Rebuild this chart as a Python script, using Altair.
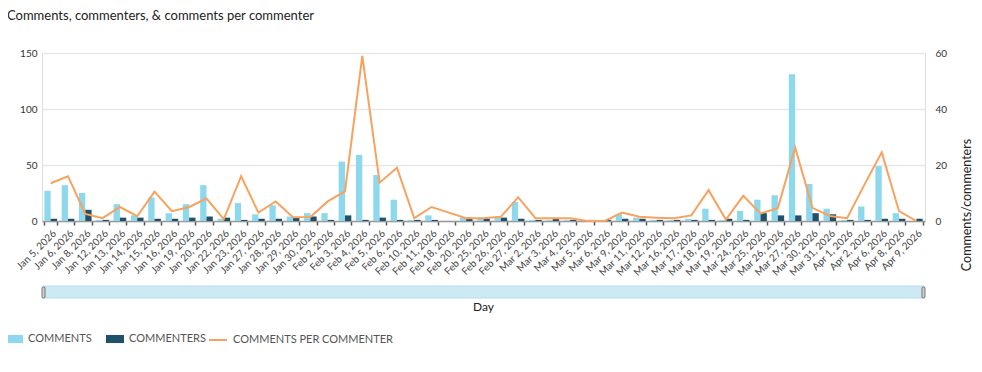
import altair as alt
import pandas as pd

days = ["Jan 5, 2026", "Jan 6, 2026", "Jan 8, 2026", "Jan 12, 2026", "Jan 13, 2026", "Jan 14, 2026",
        "Jan 15, 2026", "Jan 16, 2026", "Jan 19, 2026", "Jan 20, 2026", "Jan 22, 2026", "Jan 23, 2026",
        "Jan 27, 2026", "Jan 28, 2026", "Jan 29, 2026", "Jan 30, 2026", "Feb 2, 2026", "Feb 3, 2026",
        "Feb 4, 2026", "Feb 5, 2026", "Feb 6, 2026", "Feb 10, 2026", "Feb 11, 2026", "Feb 18, 2026",
        "Feb 20, 2026", "Feb 25, 2026", "Feb 26, 2026", "Feb 27, 2026", "Mar 2, 2026", "Mar 3, 2026",
        "Mar 4, 2026", "Mar 5, 2026", "Mar 6, 2026", "Mar 9, 2026", "Mar 11, 2026", "Mar 12, 2026",
        "Mar 16, 2026", "Mar 17, 2026", "Mar 18, 2026", "Mar 19, 2026", "Mar 24, 2026", "Mar 25, 2026",
        "Mar 26, 2026", "Mar 27, 2026", "Mar 30, 2026", "Mar 31, 2026", "Apr 1, 2026", "Apr 2, 2026",
        "Apr 6, 2026", "Apr 8, 2026", "Apr 9, 2026"]

comments = [27, 32, 25, 1, 15, 5, 21, 7, 15, 32, 2, 16, 6, 14, 4, 7, 7, 53, 59, 41, 19, 1, 5, 0,
            3, 3, 4, 17, 1, 1, 1, 0, 0, 6, 3, 1, 1, 2, 11, 1, 9, 19, 23, 131, 33, 11, 1, 13, 49, 7, 0]

commenters = [2, 2, 10, 1, 3, 3, 2, 2, 3, 4, 3, 1, 2, 2, 3, 4, 1, 5, 1, 3, 1, 1, 1, 0,
              3, 2, 3, 2, 1, 2, 1, 1, 1, 2, 2, 1, 1, 1, 1, 2, 1, 7, 5, 5, 7, 6, 1, 1, 2, 2, 2]

per_commenter = [13.5, 16, 2.5, 1, 5, 1.7, 10.5, 3.5, 5, 8, 0.7, 16, 3, 7, 1.3, 1.4, 7, 10.6, 59, 13.7,
                 19, 1, 5, 3, 1, 1, 1.5, 8.5, 1, 1, 1, 0, 0, 3, 1.5, 1.2, 1, 2, 11, 0.5, 9, 2.7, 4.6,
                 26.2, 4.7, 1.8, 1, 13, 24.5, 3.5, 0]

bar_series = ["COMMENTS", "COMMENTERS"]
line_series = ["COMMENTS PER COMMENTER"]

LIGHT = "#8ED8EE"
DARK = "#21506A"
ORANGE = "#F7A25F"
FONT = "Lato"

W, H = 883, 168

bars_df = pd.DataFrame({
    "day": days * 2,
    "series": [bar_series[0]] * len(days) + [bar_series[1]] * len(days),
    "value": comments + commenters,
})
line_df = pd.DataFrame({"day": days, "ratio": per_commenter, "lseries": line_series[0]})

x_enc = alt.X("day:N", sort=days,
              scale=alt.Scale(paddingInner=0.27, paddingOuter=0.135),
              axis=alt.Axis(title=None, labelAngle=-45, labelFontSize=10, labelColor="#444",
                            labelFont=FONT, tickBand="extent", tickColor="#555", tickSize=4,
                            tickWidth=1.5, domainColor="#9a9a9a", domainWidth=1.5,
                            labelPadding=3, grid=False, labelOverlap=False))

bars = alt.Chart(bars_df).mark_bar().encode(
    x=x_enc,
    xOffset=alt.XOffset("series:N", sort=bar_series,
                        scale=alt.Scale(domain=bar_series, paddingInner=0, paddingOuter=0)),
    y=alt.Y("value:Q", scale=alt.Scale(domain=[0, 150], nice=False),
            axis=alt.Axis(title=None, values=[0, 50, 100, 150], grid=True, gridColor="#e8e8e8",
                          gridWidth=1.5, domain=False, ticks=False, labelFontSize=10,
                          labelColor="#333", labelFont=FONT, labelPadding=5)),
    color=alt.Color("series:N", sort=bar_series,
                    scale=alt.Scale(domain=bar_series, range=[LIGHT, DARK]),
                    legend=alt.Legend(orient="none", legendX=-37, legendY=277, direction="horizontal",
                                      title=None, symbolType="M-1,-0.45L1,-0.45L1,0.45L-1,0.45Z",
                                      symbolSize=324, symbolStrokeWidth=0, labelFontSize=11,
                                      labelColor="#555", labelFont=FONT, columnPadding=14,
                                      labelOffset=5, symbolOpacity=1, labelLimit=0)),
)

line = alt.Chart(line_df).mark_line(strokeWidth=2).encode(
    x=alt.X("day:N", sort=days),
    y=alt.Y("ratio:Q", scale=alt.Scale(domain=[0, 60], nice=False),
            axis=alt.Axis(title=None, orient="right", values=[0, 20, 40, 60], grid=False,
                          domain=False, ticks=False, labelFontSize=10, labelColor="#333",
                          labelFont=FONT, labelPadding=10)),
    stroke=alt.Stroke("lseries:N", scale=alt.Scale(domain=line_series, range=[ORANGE]),
                      legend=alt.Legend(orient="none", legendX=166, legendY=277, title=None,
                                        symbolType="stroke", symbolSize=324, symbolStrokeWidth=2,
                                        labelFontSize=11, labelColor="#555", labelFont=FONT,
                                        labelOffset=5, labelLimit=0)),
)

one = pd.DataFrame({"k": [0]})

scroll = alt.Chart(one).mark_rect(fill="#CDE9F4", stroke="#B5DCEC", strokeWidth=1).encode(
    x=alt.value(1), x2=alt.value(W - 1), y=alt.value(233), y2=alt.value(245))
handle_l = alt.Chart(one).mark_rect(fill="#d0d0d0", stroke="#777", strokeWidth=1, cornerRadius=1).encode(
    x=alt.value(0), x2=alt.value(3), y=alt.value(234), y2=alt.value(245))
handle_r = alt.Chart(one).mark_rect(fill="#d0d0d0", stroke="#777", strokeWidth=1, cornerRadius=1).encode(
    x=alt.value(W - 3), x2=alt.value(W), y=alt.value(234), y2=alt.value(245))

day_title = alt.Chart(pd.DataFrame({"t": ["Day"]})).mark_text(
    fontSize=12, font=FONT, color="#222", baseline="middle", align="center").encode(
    text="t:N", x=alt.value(W / 2), y=alt.value(254))

right_title = alt.Chart(pd.DataFrame({"t": ["Comments/commenters"]})).mark_text(
    fontSize=12.5, font=FONT, color="#222", baseline="middle", align="center", angle=270).encode(
    text="t:N", x=alt.value(925), y=alt.value(152))

main_title = alt.Chart(pd.DataFrame({"t": ["Comments, commenters, & comments per commenter"]})).mark_text(
    fontSize=13, font=FONT, color="#222", baseline="middle", align="left").encode(
    text="t:N", x=alt.value(-35), y=alt.value(-37))

chart = alt.layer(bars, line, scroll, handle_l, handle_r, day_title, right_title, main_title).resolve_scale(
    y="independent", color="independent").properties(
    width=W, height=H, autosize=alt.AutoSizeParams(type="none"),
    padding={"left": 34, "top": 45, "right": 48, "bottom": 130},
).configure_view(stroke=None).configure(background="white")

chart.save("out.html", embed_options={"renderer": "svg", "actions": False})
